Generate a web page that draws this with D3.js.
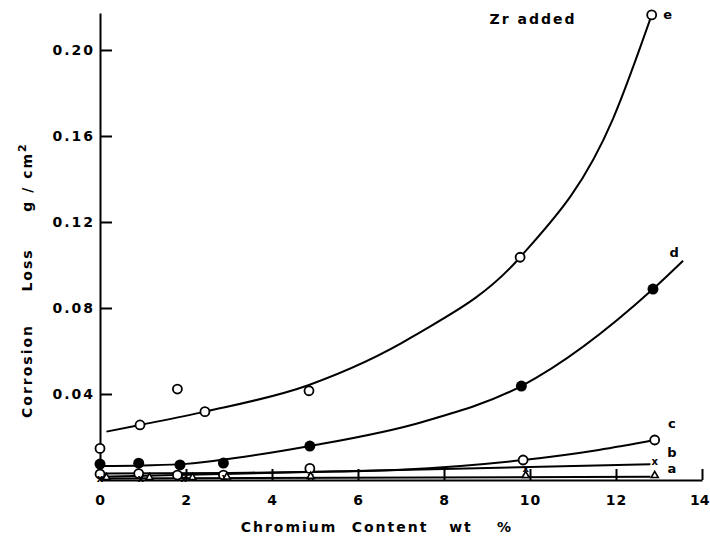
<!DOCTYPE html>
<html>
<head>
<meta charset="utf-8">
<script src="https://cdn.jsdelivr.net/npm/d3@7"></script>
<style>
  body { margin: 0; background: #fff; }
  text { font-family: "DejaVu Sans", sans-serif; font-weight: bold; fill: #000; }
</style>
</head>
<body>
<div id="chart"></div>
<script>
// Tick labels
var xTicks = [0, 2, 4, 6, 8, 10, 12, 14];
var yTicks = [0.04, 0.08, 0.12, 0.16, 0.20];

// Measured points [Cr wt%, loss g/cm2]
var ePoints = [[0, 0.0147], [0.93, 0.0256], [1.8, 0.0423], [2.44, 0.0318], [4.86, 0.0415], [9.77, 0.1036], [12.83, 0.2163]];
var dPoints = [[0, 0.0074], [0.9, 0.0078], [1.86, 0.0070], [2.87, 0.0079], [4.88, 0.0158], [9.8, 0.0437], [12.86, 0.0888]];
var cPoints = [[0, 0.0028], [0.9, 0.0030], [1.8, 0.0023], [2.87, 0.0023], [4.88, 0.0054], [9.84, 0.0093], [12.9, 0.0186]];
var bPoints = [[0, 0.0005], [0.95, 0.0005], [1.95, 0.0005], [2.9, 0.0010], [4.9, 0.0015], [9.9, 0.0055], [12.9, 0.0085]];
var aPoints = [[0.15, 0.0002], [1.15, 0.0002], [2.15, 0.0002], [2.95, 0.0005], [4.9, 0.0008], [9.9, 0.0012], [12.9, 0.0012]];

// Fitted curves
var eCurve = [[0.15, 0.0225], [0.93, 0.0256], [2.44, 0.0318], [4.86, 0.0442], [7.3, 0.067], [9.77, 0.1036], [11.93, 0.168], [12.83, 0.2163]];
var dCurve = [[0, 0.0065], [1, 0.0068], [2, 0.0075], [3.1, 0.0101], [4.88, 0.0158], [7.5, 0.027], [9.8, 0.0437], [12.86, 0.0888], [13.56, 0.102]];
var cCurve = [[0, 0.0030], [3, 0.0033], [5, 0.0038], [7, 0.0048], [9.84, 0.0093], [11.6, 0.014], [12.9, 0.0186]];
var bCurve = [[0, 0.0015], [12.8, 0.0073]];
var aCurve = [[0, 0.0007], [12.8, 0.0015]];

var svg = d3.select("#chart").append("svg")
    .attr("width", 710)
    .attr("height", 540);

var x = d3.scaleLinear().domain([0, 14]).range([100, 702]);
var y = d3.scaleLinear().domain([0, 0.2172]).range([480, 13]);

// axes
var xAxis = d3.axisBottom(x).tickValues(xTicks).tickSizeInner(-11).tickSizeOuter(0).tickPadding(15)
    .tickFormat(d3.format("d"));
var yAxis = d3.axisLeft(y).tickValues(yTicks).tickSizeInner(-12).tickSizeOuter(0).tickPadding(5)
    .tickFormat(d3.format(".2f"));

var gx = svg.append("g").attr("transform", "translate(0,480)").call(xAxis);
var gy = svg.append("g").attr("transform", "translate(100,0)").call(yAxis);
[gx, gy].forEach(function(g) {
    g.select(".domain").attr("stroke", "#000").attr("stroke-width", 2);
    g.selectAll(".tick line").attr("stroke", "#000").attr("stroke-width", 2);
    g.selectAll(".tick text").style("font-size", "14px").style("letter-spacing", "2px")
        .style("font-family", "DejaVu Sans").style("font-weight", "bold");
});
gx.selectAll(".tick text").style("letter-spacing", "1px");
// keep the last label inside the page
gx.selectAll(".tick text").filter(function(d) { return d === 14; })
    .style("letter-spacing", "0px").attr("text-anchor", "end").attr("dx", "7");
gx.selectAll(".tick line").filter(function(d) { return d === 0; }).remove();

// axis titles
var xTitle = ["Chromium", "Content", "wt", "%"];
var xTitlePos = [289, 390, 461, 505];
xTitle.forEach(function(t, i) {
    svg.append("text").attr("x", xTitlePos[i]).attr("y", 532)
        .attr("text-anchor", "middle").style("font-size", "14px").style("letter-spacing", "2px").text(t);
});
var yTitlePos = [371, 270, 177];
svg.append("text").attr("transform", "translate(32," + yTitlePos[0] + ") rotate(-90)")
    .attr("text-anchor", "middle").style("font-size", "14px").style("letter-spacing", "2px").text("Corrosion");
svg.append("text").attr("transform", "translate(32," + yTitlePos[1] + ") rotate(-90)")
    .attr("text-anchor", "middle").style("font-size", "14px").style("letter-spacing", "2px").text("Loss");
var gcm = svg.append("text").attr("transform", "translate(32," + yTitlePos[2] + ") rotate(-90)")
    .attr("text-anchor", "middle").style("font-size", "14px").style("letter-spacing", "2px");
gcm.append("tspan").text("g / cm");
gcm.append("tspan").attr("dy", "-6").style("font-size", "11px").text("2");

// curves
var line = d3.line()
    .x(function(d) { return x(d[0]); })
    .y(function(d) { return y(d[1]); })
    .curve(d3.curveMonotoneX);

[eCurve, dCurve, cCurve, bCurve, aCurve].forEach(function(c) {
    svg.append("path").datum(c).attr("d", line)
        .attr("fill", "none").attr("stroke", "#000").attr("stroke-width", 2);
});

// markers
function openCircles(pts) {
    svg.selectAll(null).data(pts).enter().append("circle")
        .attr("cx", function(d) { return x(d[0]); })
        .attr("cy", function(d) { return y(d[1]); })
        .attr("r", 4.5).attr("fill", "#fff").attr("stroke", "#000").attr("stroke-width", 1.8);
}
openCircles(ePoints);
openCircles(cPoints);

svg.selectAll(null).data(dPoints).enter().append("circle")
    .attr("cx", function(d) { return x(d[0]); })
    .attr("cy", function(d) { return y(d[1]); })
    .attr("r", 5.5).attr("fill", "#000");

svg.selectAll(null).data(bPoints).enter().append("text")
    .attr("x", function(d) { return x(d[0]); })
    .attr("y", function(d) { return y(d[1]); })
    .attr("dy", "0.35em").attr("text-anchor", "middle")
    .style("font-size", "10px").text("x");

svg.selectAll(null).data(aPoints).enter().append("path")
    .attr("transform", function(d) { return "translate(" + x(d[0]) + "," + (y(d[1]) - 2) + ")"; })
    .attr("d", d3.symbol().type(d3.symbolTriangle).size(22))
    .attr("fill", "#fff").attr("stroke", "#000").attr("stroke-width", 1.6);

// series labels
var seriesNames = ["e", "d", "c", "b", "a"];
var labelPos = [[13.2, 0.2163], [13.35, 0.106], [13.3, 0.0265], [13.3, 0.0128], [13.3, 0.0052]];
seriesNames.forEach(function(n, i) {
    svg.append("text").attr("x", x(labelPos[i][0])).attr("y", y(labelPos[i][1]))
        .attr("dy", "0.35em").attr("text-anchor", "middle").style("font-size", "13px").text(n);
});

svg.append("text").attr("x", 533).attr("y", 24).attr("text-anchor", "middle")
    .style("font-size", "14px").style("letter-spacing", "2px").text("Zr   added");
</script>
</body>
</html>
